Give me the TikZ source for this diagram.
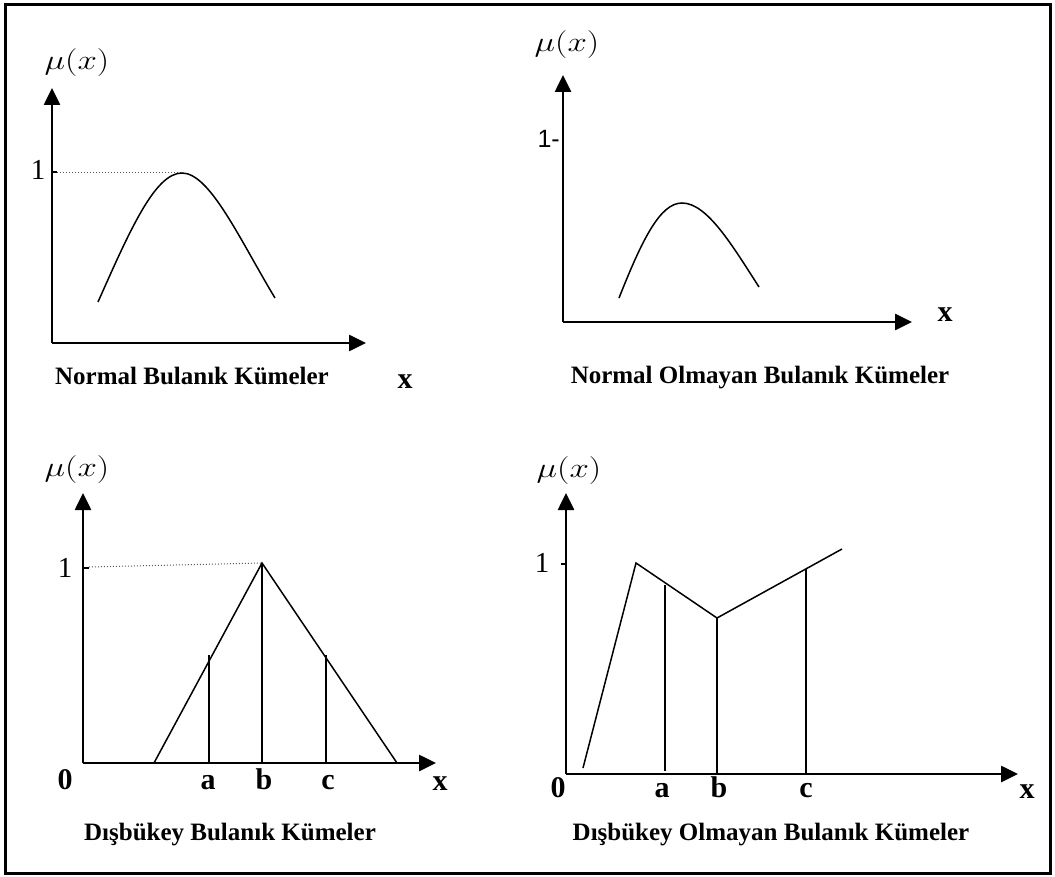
\documentclass[tikz,border=0pt]{standalone}
\usepackage{fontspec}
\setmainfont{Liberation Serif}
\newfontfamily\arialf{Liberation Sans}
\usetikzlibrary{arrows.meta}
\newcommand{\mulabel}{\scalebox{1.4}[1.12]{$\mu(x)$}}
\begin{document}
\begin{tikzpicture}[x=1pt,y=-1pt,
  axis/.style={line width=2.6pt,-{Triangle[length=17pt,width=16pt]}},
  curve/.style={line width=1.5pt,line join=miter},
  vline/.style={line width=1.4pt},
  guide/.style={line width=1pt,dotted,gray!70!black},
  title/.style={font=\bfseries\fontsize{25}{28}\selectfont,inner sep=0pt},
  lbl/.style={font=\bfseries\fontsize{30}{33}\selectfont,inner sep=0pt,anchor=base},
  mu/.style={font=\fontsize{24}{28}\selectfont,inner sep=0pt},
  one/.style={font=\fontsize{29}{32}\selectfont,inner sep=0pt}]
\useasboundingbox (0,0) rectangle (1055,877);
\draw[line width=3pt] (5,5) rectangle (1050,873);

% ---------- Panel 1 ----------
\coordinate (o1) at (52,343);
\coordinate (y1) at (52,88);
\coordinate (x1) at (366,343);
\draw[axis] (o1) -- (y1);
\draw[axis] (o1) -- (x1);
\node[mu] (mu1) at (77,63) {\mulabel};
\node[one] (one1) at (38,170) {1};
\draw[line width=2pt] (52,172) -- (57,172);
\coordinate (p1s) at (98,302);
\coordinate (p1t) at (182,173);
\coordinate (p1e) at (275,298);
\draw[guide] (57,173) -- (p1t);
\draw[curve] (p1s) .. controls (130,230) and (155,173) .. (p1t)
   .. controls (210,173) and (240,240) .. (p1e);
\node[title] (t1) at (192,376) {Normal Bulanık Kümeler};
\node[lbl] (xl1) at (405,388) {x};

% ---------- Panel 2 ----------
\coordinate (o2) at (563,322);
\coordinate (y2) at (563,75);
\coordinate (x2) at (912,322);
\draw[axis] (o2) -- (y2);
\draw[axis] (o2) -- (x2);
\node[mu] (mu2) at (567,45) {\mulabel};
\node[one,font=\arialf\fontsize{25}{28}\selectfont,anchor=east] (one2) at (560,139) {1-};
\coordinate (p2s) at (619,298);
\coordinate (p2t) at (682,203);
\coordinate (p2e) at (759,287);
\draw[curve] (p2s) .. controls (642,240) and (660,203) .. (p2t)
   .. controls (707,203) and (732,245) .. (p2e);
\node[title] (t2) at (760,378) {Normal Olmayan Bulanık Kümeler};
\node[lbl] (xl2) at (945,322) {x};

% ---------- Panel 3 ----------
\coordinate (o3) at (83,763);
\coordinate (y3) at (83,493);
\coordinate (x3) at (436,763);
\draw[axis] (o3) -- (y3);
\draw[axis] (o3) -- (x3);
\node[mu] (mu3) at (77,470) {\mulabel};
\node[one] (one3) at (65,568) {1};
\draw[line width=2pt] (83,568) -- (89,568);
\coordinate (t3l) at (154,763);
\coordinate (t3p) at (262,563);
\coordinate (t3r) at (397,763);
\draw[guide] (89,567) -- (t3p);
\draw[curve] (t3l) -- (t3p) -- (t3r);
\coordinate (a3t) at (209,655);
\coordinate (c3t) at (326,655);
\draw[vline] (a3t) -- (a3t |- o3);
\draw[vline] (t3p) -- (t3p |- o3);
\draw[vline] (c3t) -- (c3t |- o3);
\node[lbl] (z3) at (65,789) {0};
\node[lbl] (a3) at (208,789) {a};
\node[lbl] (b3) at (264,789) {b};
\node[lbl] (c3) at (328,789) {c};
\node[lbl] (xl3) at (440,790) {x};
\node[title] (t3) at (230,835) {Dışbükey Bulanık Kümeler};

% ---------- Panel 4 ----------
\coordinate (o4) at (566,774);
\coordinate (y4) at (566,493);
\coordinate (x4) at (1018,774);
\draw[axis] (o4) -- (y4);
\draw[axis] (o4) -- (x4);
\node[mu] (mu4) at (569,471) {\mulabel};
\node[one] (one4) at (542,563) {1};
\draw[line width=2pt] (561,564) -- (567,564);
\coordinate (q0) at (583,768);
\coordinate (q1) at (636,563);
\coordinate (q2) at (717,618);
\coordinate (q3) at (842,549);
\draw[curve] (q0) -- (q1) -- (q2) -- (q3);
\coordinate (a4t) at (665,585);
\coordinate (a4b) at (665,771);
\coordinate (c4t) at (806,569);
\draw[vline] (a4t) -- (a4b);
\draw[line width=2pt] (q2) -- (q2 |- o4);
\draw[vline] (c4t) -- (c4t |- o4);
\node[lbl] (z4) at (558,797) {0};
\node[lbl] (a4) at (662,797) {a};
\node[lbl] (b4) at (719,797) {b};
\node[lbl] (c4) at (806,797) {c};
\node[lbl] (xl4) at (1027,798) {x};
\node[title] (t4) at (771,835) {Dışbükey Olmayan Bulanık Kümeler};
\end{tikzpicture}
\end{document}
